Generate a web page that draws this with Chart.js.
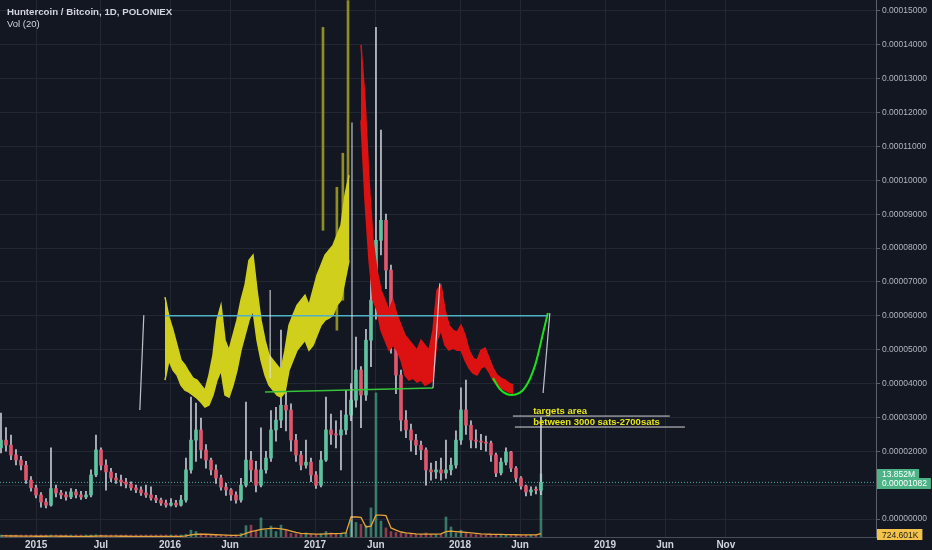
<!DOCTYPE html>
<html lang="en">
<head>
<meta charset="UTF-8">
<title>Huntercoin / Bitcoin, 1D, POLONIEX</title>
<script src="https://cdn.jsdelivr.net/npm/chart.js"></script>
<style>
    html, body { margin: 0; padding: 0; background: #131722; }
    #wrap { width: 932px; height: 550px; }
</style>
</head>
<body>
<div id="wrap"><canvas id="chart" width="932" height="550"></canvas></div>
<script>
// x axis is a day index (TradingView bar spacing), y in satoshis
const tickDays = [91, 254, 428, 579, 793, 946, 1158, 1309, 1523, 1674, 1827];
const tickLabels = ['2015', 'Jul', '2016', 'Jun', '2017', 'Jun', '2018', 'Jun', '2019', 'Jun', 'Nov'];
const priceTicks = [0, 1000, 2000, 3000, 4000, 5000, 6000, 7000, 8000, 9000, 10000, 11000, 12000, 13000, 14000, 15000];

// candles, one every ~12.6 days
const candleStart = 2.5;
const candleStep = 12.585;
const candleOpen = [2100,2330,2180,1890,1740,1590,1150,920,710,500,
    410,900,770,710,650,800,710,650,710,1300,
    2040,1590,1390,1210,1150,1090,1030,920,860,770,
    710,620,560,470,410,470,410,560,1450,2330,
    2630,2040,1740,1450,1210,940,860,710,560,1000,
    1740,1450,1000,1450,1800,2630,2920,3360,3220,2330,
    1890,1590,1680,1300,1000,1740,2630,2500,2480,2630,
    3070,3510,4400,3660,5280,6460,8230,8820,7350,5580,
    4250,2920,2630,2330,2180,2040,1450,1390,1450,1360,
    1450,1590,2330,3220,2770,2330,2300,2270,2240,1890,
    1360,1680,1980,1500,1210,970,800,860,850];
const candleClose = [2330,2180,1890,1740,1590,1150,920,710,500,410,
    900,770,710,650,800,710,650,710,1300,2040,
    1590,1390,1210,1150,1090,1030,920,860,770,710,
    620,560,470,410,470,410,560,1450,2330,2630,
    2040,1740,1450,1210,940,860,710,560,1000,1740,
    1450,1000,1450,1800,2630,2920,3360,3220,2330,1890,
    1590,1680,1300,1000,1740,2630,2500,2480,2630,3070,
    3510,4400,3660,5280,6460,8230,8820,7350,5580,4250,
    2920,2630,2330,2180,2040,1450,1390,1450,1360,1450,
    1590,2330,3220,2770,2330,2300,2270,2240,1890,1360,
    1680,1980,1500,1210,970,800,860,850,1082];
const candleHigh = [3130,2700,2480,2050,1850,1700,1250,1000,780,600,
    2100,1000,850,800,900,880,820,820,1450,2480,
    2100,1750,1500,1350,1300,1200,1100,1000,950,1000,
    950,700,620,560,600,550,700,1800,3600,3420,
    2980,2200,1800,1600,1300,1050,900,800,1200,3450,
    2000,1700,2690,2000,3200,3300,5580,3750,3400,2500,
    2000,2330,1800,1400,2000,3600,3100,2900,3200,3800,
    4000,5370,4500,5600,7850,14520,11480,9000,7500,5700,
    4400,3200,2800,2500,2300,2100,1650,1700,1800,2330,
    1800,2600,3870,4100,2900,2630,2500,2450,2300,1950,
    1800,2100,2000,1550,1250,1000,950,950,3010];
const candleLow = [1950,2000,1750,1600,1450,1050,820,620,350,330,
    380,650,600,560,600,620,580,600,650,1250,
    1450,850,1100,1050,980,920,850,780,700,640,
    560,480,400,350,380,360,380,500,1350,1700,
    1800,1500,1300,1050,850,700,550,470,500,950,
    1100,800,950,1350,1700,2300,2700,2600,2000,1700,
    1450,1500,1100,900,950,1700,2200,2100,1450,2500,
    2900,3300,2700,3500,4500,5900,7800,6800,4900,3700,
    2600,2400,2000,1900,1750,1000,1150,1200,1150,1200,
    1300,1500,2200,2500,2100,2100,2050,2000,1700,1250,
    1300,1600,1400,1100,880,680,700,740,720];
// volume in thousands
const volume = [300,250,200,250,200,180,150,150,120,150,
    400,200,150,120,150,120,100,120,300,500,
    300,250,200,150,150,120,120,100,100,100,
    100,100,100,100,120,100,200,600,1500,1200,
    700,500,400,300,300,250,200,300,800,2500,
    2600,1500,4200,1500,2400,1200,2600,1500,800,700,
    600,900,600,500,700,1200,900,700,800,1000,
    3700,3200,2800,2500,6400,31700,3500,2000,1200,1000,
    800,700,600,600,500,900,600,500,700,4400,
    2200,900,1500,1000,600,500,500,400,400,500,
    600,500,400,400,300,350,400,500,13852];
const volumeMA = [250,240,220,220,210,200,180,170,160,160,
    180,180,170,160,150,150,140,140,160,200,
    220,210,200,180,170,160,150,140,130,120,
    120,110,110,110,110,110,140,250,450,600,
    650,600,550,500,450,400,350,350,400,800,
    1200,1400,1700,1800,1900,1900,1800,1600,1300,1000,
    800,750,700,650,650,700,750,750,800,900,
    4400,4400,4300,2200,2400,4800,4800,4700,2000,1500,
    1100,900,800,700,650,650,650,650,700,1200,
    1300,1200,1100,1000,900,800,700,650,600,580,
    560,540,520,500,480,470,460,480,724.601];

// yellow bars pattern (projected copy)
const yellowStart = 415.3;
const yellowStep = 10.07;
const yellowHigh = [6550,5960,5575,5130,4690,4540,4340,4160,4100,3950,
    3805,4250,4840,5870,6310,5280,4985,5430,5870,6460,
    6900,7640,7790,6755,5870,5280,4840,4690,4540,4395,
    4985,5720,6020,6310,6460,6610,6310,6755,7200,7490,
    7790,7935,8080,8380,8670,9560,10150];
const yellowLow = [4100,4690,4395,4250,3950,3805,3745,3660,3570,3450,
    3305,3365,3660,4100,4395,3660,3600,3950,4395,4985,
    5430,5870,6165,5280,4690,4250,3950,3805,3660,3600,
    3745,4395,4690,4985,5130,5280,4985,5130,5430,5720,
    5870,5930,6020,6310,6460,7050,7640];
const oliveDays = [813, 848, 863, 876];
const oliveHigh = [14515, 9795, 10800, 15310];
const oliveLow = [8525, 5575, 6460, 7640];

// red bars pattern
const redStart = 908.7;
const redStep = 10.07;
const redHigh = [14000,12360,10000,8230,7345,6755,6460,6165,6460,6020,
    5720,5430,5280,5130,4985,5280,5130,4985,5575,6755,
    6900,6165,5720,5575,5515,5720,5430,4985,4750,4690,
    4985,5045,4750,4455,4250,4160,4100,4010,3950];
const redLow = [11770,9410,7640,6460,6165,5575,5280,4985,5130,4985,
    4690,4250,4100,4160,4040,4100,3950,4010,4100,5280,
    5575,5130,4985,5045,4985,4985,4690,4455,4310,4250,
    4455,4515,4340,4100,3950,3865,3805,3745,3715];

// drawings
const cyanDays = [415, 1379];
const cyanSats = [6000, 6000];
const greenDays = [667, 1090];
const greenSats = [3750, 3870];
const cupDays = [1241, 1258, 1289, 1321, 1347, 1367, 1379];
const cupSats = [4160, 3840, 3660, 3870, 4545, 5490, 6080];
const markerSegs = [
    [352, 3220, 362, 6020],
    [680, 4160, 680, 6760],
    [886, -531, 886, 11710],
    [1090, 3870, 1107, 6960],
    [1367, 3720, 1384, 6080]
];
const targetDays = [[1291, 1686], [1296, 1724]];
const targetSats = [3040, 2716];
const targetTexts = ['targets area', 'between 3000 sats-2700sats'];
const targetTextDay = 1342;

const lastClose = candleClose[candleClose.length - 1];
const lastVolume = volume[volume.length - 1];
const lastMA = volumeMA[volumeMA.length - 1];

const UP = '#5fc3a0';
const DOWN = '#e0566c';

const candleDays = candleOpen.map((_, i) => candleStart + i * candleStep);

function lineSet(xs, ys, color, width, extra) {
    return Object.assign({
        type: 'line',
        data: xs.map((x, i) => ({ x: x, y: ys[i] })),
        borderColor: color,
        borderWidth: width,
        pointRadius: 0,
        fill: false,
        yAxisID: 'y'
    }, extra || {});
}

const datasets = [];

// annotation lines (top)
markerSegs.forEach(s => {
    datasets.push(lineSet([s[0], s[2]], [s[1], s[3]], 'rgba(225,225,230,0.85)', 1.2, { order: 1 }));
});
targetDays.forEach((d, i) => {
    datasets.push(lineSet(d, [targetSats[i], targetSats[i]], '#d6d6d6', 1, { order: 1 }));
});
datasets.push(lineSet(cyanDays, cyanSats, '#4fb0c6', 1.5, { order: 1 }));
datasets.push(lineSet(greenDays, greenSats, '#36c23a', 1.5, { order: 1 }));
datasets.push(lineSet(cupDays, cupSats, '#1ee01e', 2, { order: 1, tension: 0.45, cubicInterpolationMode: 'monotone' }));

// bars patterns drawn as filled bands between high and low
const redDays = redHigh.map((_, i) => redStart + i * redStep);
const yellowDays = yellowHigh.map((_, i) => yellowStart + i * yellowStep);
datasets.push(lineSet(redDays, redHigh, '#dc1212', 1.5, { order: 2, fill: '+1', backgroundColor: '#dc1212' }));
datasets.push(lineSet(redDays, redLow, '#dc1212', 1.5, { order: 2 }));
datasets.push(lineSet(yellowDays, yellowHigh, '#cfcf1c', 1.5, { order: 2, fill: '+1', backgroundColor: '#cfcf1c' }));
datasets.push(lineSet(yellowDays, yellowLow, '#cfcf1c', 1.5, { order: 2 }));
datasets.push({
    type: 'bar', order: 2, grouped: false, yAxisID: 'y',
    data: oliveDays.map((d, i) => ({ x: d, y: [oliveLow[i], oliveHigh[i]] })),
    backgroundColor: '#8e8e22', barThickness: 2
});

// candles
datasets.push({
    type: 'bar', order: 3, grouped: false, yAxisID: 'y',
    data: candleDays.map((d, i) => ({ x: d, y: [candleOpen[i], candleClose[i]] })),
    backgroundColor: candleOpen.map((o, i) => candleClose[i] >= o ? UP : DOWN),
    barThickness: 3, minBarLength: 1
});
datasets.push({
    type: 'bar', order: 4, grouped: false, yAxisID: 'y',
    data: candleDays.map((d, i) => ({ x: d, y: [candleLow[i], candleHigh[i]] })),
    backgroundColor: 'rgba(215,218,228,0.9)',
    barThickness: 1
});

// price line
datasets.push(lineSet([0, 2205], [lastClose, lastClose], '#4fb3a3', 1, { order: 5, borderDash: [1, 2] }));

// volume
datasets.push({
    type: 'line', order: 6, yAxisID: 'yv',
    data: candleDays.map((d, i) => ({ x: d, y: volumeMA[i] })),
    borderColor: '#e6a33a', borderWidth: 1.3, pointRadius: 0
});
datasets.push({
    type: 'bar', order: 7, grouped: false, yAxisID: 'yv',
    data: candleDays.map((d, i) => ({ x: d, y: volume[i] })),
    backgroundColor: candleOpen.map((o, i) => candleClose[i] >= o ? 'rgba(83,185,150,0.6)' : 'rgba(224,86,108,0.6)'),
    barThickness: 2, minBarLength: 2
});

const bgPlugin = {
    id: 'bg',
    beforeDraw(chart) {
        const c = chart.ctx;
        c.save();
        c.fillStyle = '#131722';
        c.fillRect(0, 0, chart.width, chart.height);
        c.restore();
    }
};

function tag(c, x, yc, bg, fg, text) {
    c.font = '8.5px "Liberation Sans", Arial, sans-serif';
    const w = c.measureText(text).width + 9;
    c.fillStyle = bg;
    c.fillRect(x, Math.round(yc - 5.5), w, 11);
    c.fillStyle = fg;
    c.textAlign = 'left';
    c.textBaseline = 'middle';
    c.fillText(text, x + 5, yc + 0.5);
}

const notesPlugin = {
    id: 'notes',
    afterDatasetsDraw(chart) {
        const c = chart.ctx;
        const sx = chart.scales.x, sy = chart.scales.y;
        c.save();
        c.font = 'bold 9.5px "Liberation Sans", Arial, sans-serif';
        c.fillStyle = '#e4e41c';
        c.textAlign = 'left';
        c.textBaseline = 'alphabetic';
        targetTexts.forEach((t, i) => {
            c.fillText(t, sx.getPixelForValue(targetTextDay), sy.getPixelForValue(targetSats[i]) - 2);
        });
        c.restore();
    },
    afterDraw(chart) {
        const c = chart.ctx;
        const sy = chart.scales.y, sv = chart.scales.yv;
        c.save();
        c.fillStyle = '#d1d4dc';
        c.textAlign = 'left';
        c.textBaseline = 'middle';
        c.font = 'bold 9.7px "Liberation Sans", Arial, sans-serif';
        c.fillText('Huntercoin / Bitcoin, 1D, POLONIEX', 7, 12);
        c.font = '9.5px "Liberation Sans", Arial, sans-serif';
        c.fillText('Vol (20)', 7, 24);

        const x0 = chart.chartArea.right + 1;
        tag(c, x0, sv.getPixelForValue(lastVolume), '#4bb386', '#ffffff', (lastVolume / 1000).toFixed(3) + 'M');
        tag(c, x0, sy.getPixelForValue(lastClose) + 1, '#4bb386', '#ffffff', (lastClose / 1e8).toFixed(8));
        tag(c, x0, sv.getPixelForValue(lastMA) + 1, '#f2c24a', '#1e1e1e', lastMA.toFixed(3) + 'K');
        c.restore();
    }
};

Chart.defaults.font.family = '"Liberation Sans", Arial, sans-serif';

new Chart(document.getElementById('chart'), {
    type: 'bar',
    data: { datasets: datasets },
    options: {
        responsive: false,
        animation: false,
        layout: { padding: 0 },
        plugins: {
            legend: { display: false },
            tooltip: { enabled: false }
        },
        scales: {
            x: {
                type: 'linear',
                min: 0,
                max: 2205,
                offset: false,
                afterBuildTicks: s => { s.ticks = tickDays.map(v => ({ value: v })); },
                afterFit: s => { s.height = 13; s.paddingLeft = 0; s.paddingRight = 0; },
                ticks: {
                    callback: (v, i) => tickLabels[i],
                    color: '#d1d4dc',
                    font: { size: 10, weight: 'bold' },
                    padding: 2,
                    maxRotation: 0,
                    autoSkip: false
                },
                grid: { color: '#232733', drawTicks: false, offset: false },
                border: { color: '#4a4d57' }
            },
            y: {
                position: 'right',
                min: -531,
                max: 15324,
                afterBuildTicks: s => { s.ticks = priceTicks.map(v => ({ value: v })); },
                afterFit: s => { s.width = 56; s.paddingTop = 0; s.paddingBottom = 0; },
                ticks: {
                    callback: v => (v / 1e8).toFixed(8),
                    color: '#b2b5be',
                    font: { size: 8.5 },
                    padding: 2
                },
                grid: { color: '#232733', tickLength: 4, tickColor: '#5d606b' },
                border: { color: '#5d606b' }
            },
            yv: {
                display: false,
                min: 0,
                max: 118140
            }
        }
    },
    plugins: [bgPlugin, notesPlugin]
});
</script>
</body>
</html>
